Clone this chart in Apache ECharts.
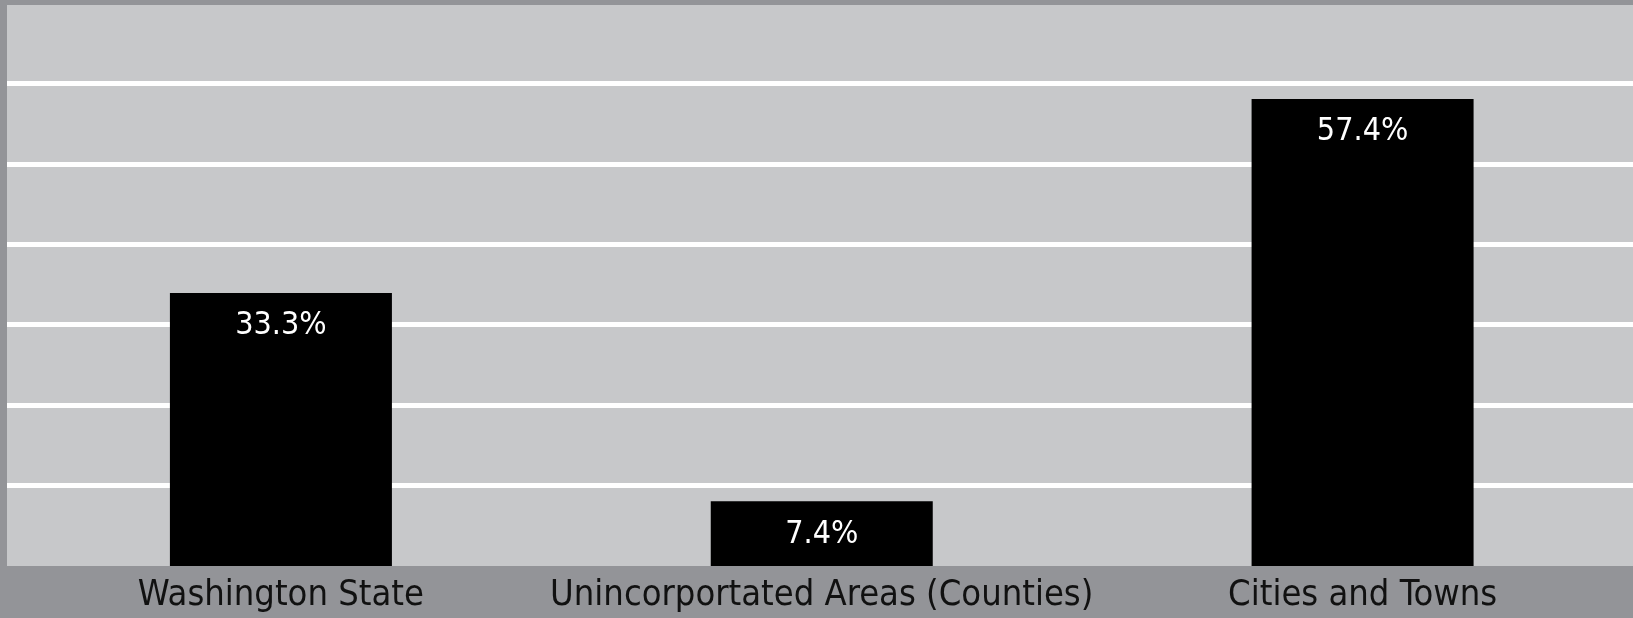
<!DOCTYPE html>
<html>
<head>
<meta charset="utf-8">
<script src="https://cdn.jsdelivr.net/npm/echarts@6/dist/echarts.min.js"></script>
<style>
html,body{margin:0;padding:0;background:#939498;}
#chart{width:1633px;height:618px;}
</style>
</head>
<body>
<div id="chart"></div>
<script>
var categories = ['Washington State', 'Unincorportated Areas (Counties)', 'Cities and Towns'];
var shares = [33.3, 7.4, 57.4];
var gridMin = 0, gridMax = 70, gridStep = 10;

var barData = shares.map(function (v, i) { return [i, v]; });

var chart = echarts.init(document.getElementById('chart'), null, {renderer: 'canvas'});
chart.setOption({
  backgroundColor: '#939498',
  animation: false,
  graphic: [{
    type: 'rect', z: 100, silent: true,
    shape: {x: 0, y: 0, width: 1633, height: 5},
    style: {fill: '#939498'}
  }],
  grid: [
    {left: 7, right: 0, top: 3, bottom: 52, show: true, backgroundColor: '#c7c8ca', borderWidth: 0},
    {left: 10.5, right: 0, top: 3, bottom: 52}
  ],
  xAxis: [
    {type: 'value', gridIndex: 0, show: false},
    {
      type: 'category', gridIndex: 1, data: categories,
      axisLine: {show: false}, axisTick: {show: false},
      axisLabel: {
        color: '#111', fontFamily: 'DejaVu Sans Condensed', fontSize: 36,
        margin: 12, interval: 0
      }
    }
  ],
  yAxis: [
    {
      type: 'value', gridIndex: 0, min: gridMin, max: gridMax, interval: gridStep,
      axisLine: {show: false}, axisTick: {show: false}, axisLabel: {show: false},
      splitLine: {show: true, showMinLine: false, showMaxLine: false, lineStyle: {color: '#ffffff', width: 5}}
    },
    {type: 'value', gridIndex: 1, min: -0.65, max: 69.35, show: false, splitLine: {show: false}}
  ],
  series: [{
    type: 'custom', xAxisIndex: 1, yAxisIndex: 1, data: barData,
    encode: {x: 0, y: 1},
    clip: false,
    renderItem: function (params, api) {
      var top = api.coord([api.value(0), api.value(1)]);
      var cs = params.coordSys;
      var bottom = cs.y + cs.height;
      var w = 222;
      return {
        type: 'rect',
        shape: {x: top[0] - w / 2, y: top[1], width: w, height: bottom - top[1]},
        style: {fill: '#000000'},
        textContent: {
          style: {
            text: api.value(1) + '%', fill: '#ffffff',
            fontFamily: 'DejaVu Sans Condensed', fontSize: 32
          }
        },
        textConfig: {position: 'insideTop', distance: 17}
      };
    }
  }]
});
</script>
</body>
</html>
